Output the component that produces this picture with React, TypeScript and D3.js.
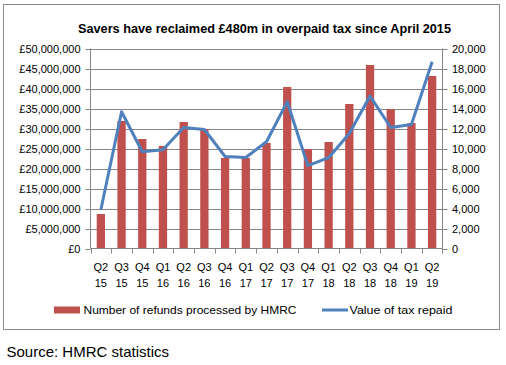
import React from 'react';
import * as d3 from 'd3';

const categories = ['Q2 15', 'Q3 15', 'Q4 15', 'Q1 16', 'Q2 16', 'Q3 16', 'Q4 16', 'Q1 17', 'Q2 17',
    'Q3 17', 'Q4 17', 'Q1 18', 'Q2 18', 'Q3 18', 'Q4 18', 'Q1 19', 'Q2 19'];
// number of refunds processed (right axis)
const refunds = [3450, 12750, 10950, 10250, 12650, 11950, 9050, 9050, 10550,
    16150, 9950, 10650, 14450, 18350, 13950, 12550, 17250];
// value of tax repaid, £ (left axis)
const taxRepaid = [9.7e6, 34.2e6, 24.2e6, 24.7e6, 30.25e6, 29.75e6, 23.0e6, 22.75e6, 26.7e6,
    36.7e6, 20.7e6, 22.7e6, 28.75e6, 38.1e6, 30.25e6, 31.0e6, 46.7e6];
const leftTicks = [0, 5e6, 10e6, 15e6, 20e6, 25e6, 30e6, 35e6, 40e6, 45e6, 50e6];
const rightTicks = [0, 2000, 4000, 6000, 8000, 10000, 12000, 14000, 16000, 18000, 20000];

const RED = '#C0504D';
const BLUE = '#4F81BD';
const GRID = '#868686';
const FONT = '"Liberation Sans", Arial, sans-serif';

const App = () => {
    const left = 90.5, right = 442.5, top = 48.5, bottom = 248.5;

    const x = d3.scaleBand().domain(categories).range([left, right]).paddingInner(0).paddingOuter(0);
    const yLeft = d3.scaleLinear().domain([0, 50e6]).range([bottom, top]);
    const yRight = d3.scaleLinear().domain([0, 20000]).range([bottom, top]);
    const bw = x.bandwidth() / 2.5;

    const line = d3.line<number>()
        .x((_, i) => x(categories[i])! + x.bandwidth() / 2)
        .y(d => yLeft(d));

    const fmtL = (v: number) => '£' + d3.format(',')(v);
    const fmtR = d3.format(',');

    return (
        <svg width={506} height={365} style={{ display: 'block', fontFamily: FONT }}>
            <style>{`body{margin:0}`}</style>
            <rect x={0} y={0} width={506} height={365} fill="#fff" />
            <rect x={3.5} y={4.5} width={496} height={325} fill="#fff" stroke="#8c8c8c" />

            <text x={264.5} y={32.5} textAnchor="middle" fontSize={12} fontWeight="bold" fill="#000"
                textLength={373} lengthAdjust="spacingAndGlyphs">
                Savers have reclaimed £480m in overpaid tax since April 2015
            </text>

            {/* gridlines */}
            {leftTicks.slice(1).map(t => (
                <line key={t} x1={left} x2={right} y1={Math.round(yLeft(t)) + 0.5} y2={Math.round(yLeft(t)) + 0.5}
                    stroke={GRID} />
            ))}

            {/* bars */}
            {refunds.map((v, i) => (
                <rect key={i} x={x(categories[i])! + (x.bandwidth() - bw) / 2} y={yRight(v)}
                    width={bw} height={yRight(0) - yRight(v)} fill={RED} />
            ))}

            {/* axes */}
            <line x1={left} x2={left} y1={top} y2={bottom} stroke={GRID} />
            <line x1={right} x2={right} y1={top} y2={bottom} stroke={GRID} />
            <line x1={left} x2={right} y1={bottom} y2={bottom} stroke={GRID} />
            {leftTicks.map(t => (
                <g key={t}>
                    <line x1={left - 5} x2={left} y1={Math.round(yLeft(t)) + 0.5} y2={Math.round(yLeft(t)) + 0.5} stroke={GRID} />
                    <text x={80.5} y={yLeft(t) + 4} textAnchor="end" fontSize={11} fill="#000">{fmtL(t)}</text>
                </g>
            ))}
            {rightTicks.map(t => (
                <g key={t}>
                    <line x1={right} x2={right + 5} y1={Math.round(yRight(t)) + 0.5} y2={Math.round(yRight(t)) + 0.5} stroke={GRID} />
                    <text x={452} y={yRight(t) + 4} textAnchor="start" fontSize={11} fill="#000">{fmtR(t)}</text>
                </g>
            ))}
            {categories.map((c, i) => {
                const x0 = Math.round(x(c)!) + 0.5;
                const cx = x(c)! + x.bandwidth() / 2;
                const [q, yr] = c.split(' ');
                return (
                    <g key={c}>
                        <line x1={x0} x2={x0} y1={bottom} y2={bottom + 5} stroke={GRID} />
                        {i === categories.length - 1 && (
                            <line x1={right} x2={right} y1={bottom} y2={bottom + 5} stroke={GRID} />
                        )}
                        <text x={cx} y={270.5} textAnchor="middle" fontSize={11} fill="#000">{q}</text>
                        <text x={cx} y={286.5} textAnchor="middle" fontSize={11} fill="#000">{yr}</text>
                    </g>
                );
            })}

            {/* line series */}
            <path d={line(taxRepaid) ?? ''} fill="none" stroke={BLUE} strokeWidth={3} strokeLinejoin="round" />

            {/* legend */}
            <rect x={54} y={306.5} width={26} height={7} fill={RED} />
            <text x={83.5} y={314} fontSize={11} fill="#000" textLength={213} lengthAdjust="spacingAndGlyphs">
                Number of refunds processed by HMRC
            </text>
            <line x1={322} x2={348} y1={310} y2={310} stroke={BLUE} strokeWidth={3} />
            <text x={349.5} y={314} fontSize={11} fill="#000" textLength={103} lengthAdjust="spacingAndGlyphs">
                Value of tax repaid
            </text>

            <text x={6.5} y={357} fontSize={15} fill="#000">Source: HMRC statistics</text>
        </svg>
    );
};

export default App;
